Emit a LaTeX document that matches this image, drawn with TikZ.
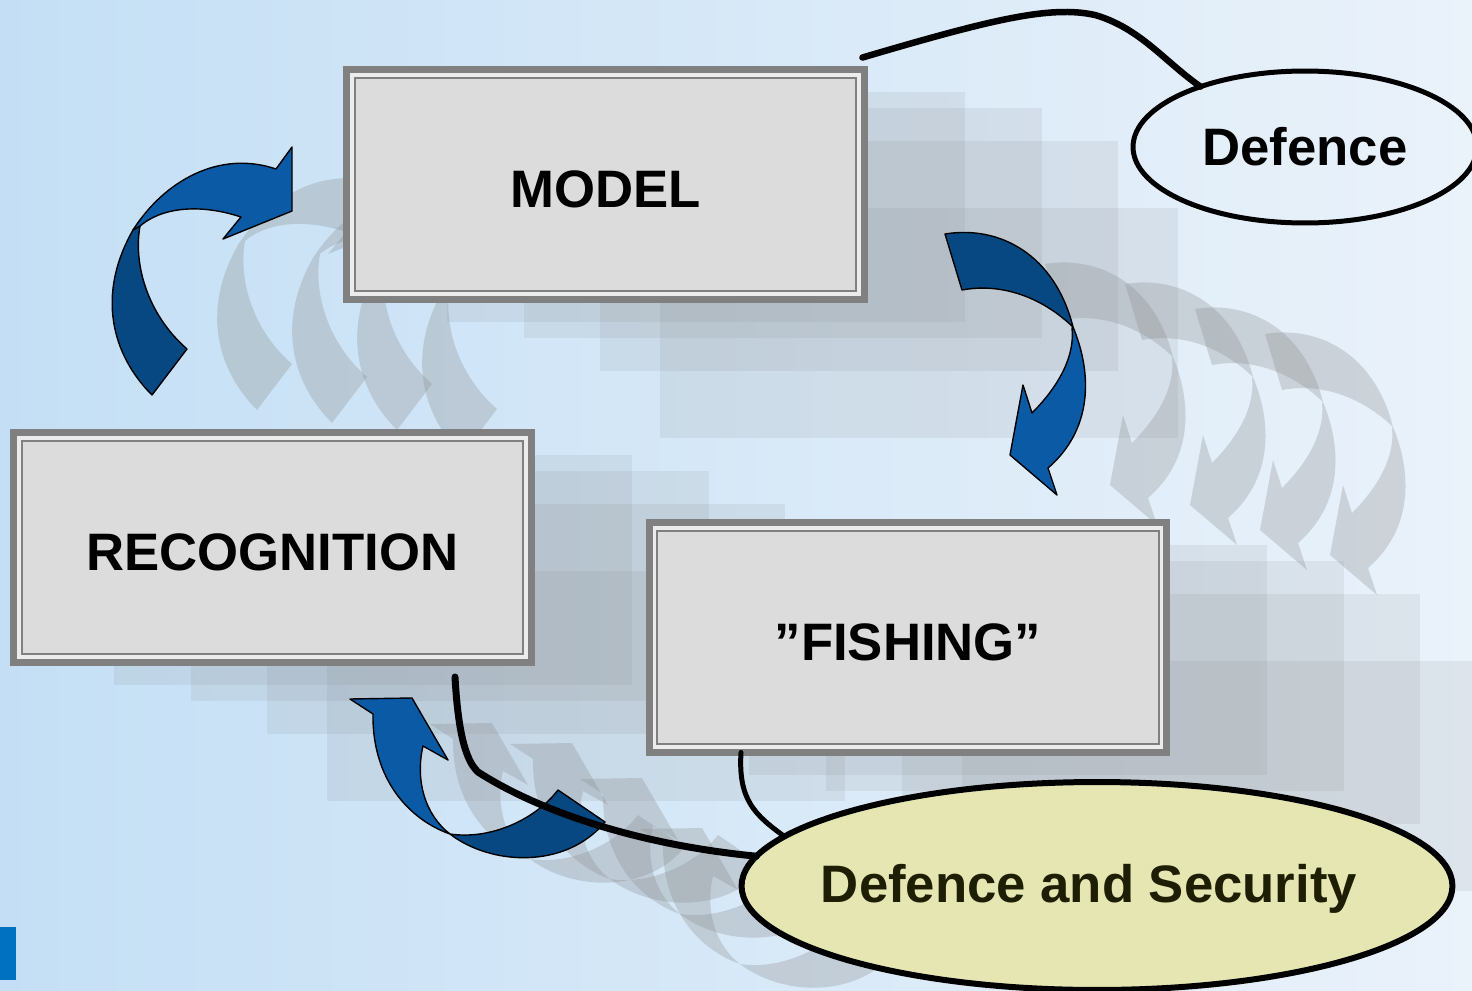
\documentclass[tikz,border=0pt]{standalone}
\usepackage{fontspec}
\setmainfont{Liberation Sans}
\usepackage{tikz}
\usetikzlibrary{shapes.geometric,calc}
\definecolor{bgleft}{RGB}{196,223,245}
\definecolor{bgright}{RGB}{234,242,250}
\definecolor{boxgray}{RGB}{128,128,128}
\definecolor{boxfill}{RGB}{220,220,220}
\definecolor{boxlight}{RGB}{236,236,236}
\definecolor{arcfront}{RGB}{10,90,166}
\definecolor{arcback}{RGB}{7,72,130}
\definecolor{ghostgray}{RGB}{140,140,140}
\definecolor{dsfill}{RGB}{230,230,178}
\definecolor{dstext}{RGB}{30,30,5}
\definecolor{cornerblue}{RGB}{0,112,192}
\newcommand{\arcLback}{(152,395) .. controls (112,355) and (96,295) .. (133,230) -- (140,226) .. controls (133,265) and (148,315) .. (187,349) -- cycle}
\newcommand{\arcLfront}{(133,230) .. controls (165,180) and (220,150) .. (276,169) -- (292,147) -- (292,211) -- (223,239) -- (241,217) .. controls (205,205) and (165,205) .. (140,226) -- cycle}
\newcommand{\arcRback}{(945,234) .. controls (1000,225) and (1055,255) .. (1073,327) .. controls (1045,300) and (1005,282) .. (962,290) -- cycle}
\newcommand{\arcRfront}{(1073,327) .. controls (1093,375) and (1092,430) .. (1048,468) -- (1057,495) -- (1010,455) -- (1023,385) -- (1032,413) .. controls (1060,385) and (1075,355) .. (1072,328) -- cycle}
\newcommand{\arcBfront}{(373,714) -- (350,699) -- (412,698) -- (448,760) -- (423,746) .. controls (415,780) and (425,815) .. (450,834) .. controls (410,820) and (372,780) .. (373,714) -- cycle}
\newcommand{\arcBback}{(450,834) .. controls (490,865) and (565,870) .. (605,822) -- (558,790) .. controls (535,820) and (490,840) .. (450,834) -- cycle}

\begin{document}
\begin{tikzpicture}[x=0.02cm,y=-0.02cm,
  bigtext/.style={font=\fontsize{30}{36}\selectfont\bfseries},
  stagebox/.style={bigtext,draw=boxgray,fill=boxfill,line width=0.14cm,minimum width=10.36cm,minimum height=4.6cm,inner sep=0pt,outer sep=0pt,text height=27pt},
  arcpart/.style={draw=black,line width=0.8pt,line join=round},
  ghost/.style={fill=ghostgray,fill opacity=0.3},
  conn/.style={draw=black,line width=0.13cm,line cap=round}]
  \useasboundingbox (0,0) rectangle (1472,991);
  \shade[left color=bgleft,right color=bgright] (0,0) rectangle (1472,991);
  \fill[cornerblue] (0,927) rectangle (16,980);
  \foreach \dx/\dy in {100/22,177/38,253/71,313/138}{
    \foreach \cx/\cy in {605.5/184.5,272.5/547.5,908/637.5}
      \fill[gray,opacity=0.12] (\cx-259+\dx,\cy-115+\dy) rectangle (\cx+259+\dx,\cy+115+\dy);
  }
  \foreach \dx/\dy in {105/15,180/28,245/35,310/60}{
    \fill[ghost,shift={(\dx,\dy)}] \arcLback;
    \fill[ghost,shift={(\dx,\dy)}] \arcLfront;
  }
  \foreach \dx/\dy in {100/30,180/50,250/75,320/100}{
    \fill[ghost,shift={(\dx,\dy)}] \arcRback;
    \fill[ghost,shift={(\dx,\dy)}] \arcRfront;
  }
  \foreach \dx/\dy in {80/25,160/45,230/80,290/130}{
    \fill[ghost,shift={(\dx,\dy)}] \arcBfront;
    \fill[ghost,shift={(\dx,\dy)}] \arcBback;
  }
  \node[stagebox] (model) at (605.5,184.5) {MODEL};
  \node[stagebox] (recog) at (272.5,547.5) {RECOGNITION};
  \node[stagebox] (fish) at (908,637.5) {”FISHING”};
  \foreach \n in {model,recog,fish}{
    \draw[boxlight,line width=0.08cm] ([shift={(5.5,5.5)}]\n.north west) rectangle ([shift={(-5.5,-5.5)}]\n.south east);
    \draw[boxgray,line width=0.04cm] ([shift={(8,8)}]\n.north west) rectangle ([shift={(-8,-8)}]\n.south east);
  }
  \filldraw[arcpart,fill=arcback] \arcLback;
  \filldraw[arcpart,fill=arcfront] \arcLfront;
  \filldraw[arcpart,fill=arcback] \arcRback;
  \filldraw[arcpart,fill=arcfront] \arcRfront;
  \filldraw[arcpart,fill=arcfront] \arcBfront;
  \filldraw[arcpart,fill=arcback] \arcBback;
  \node[ellipse,draw,bigtext,line width=0.1cm,minimum width=6.88cm,minimum height=3.04cm,inner sep=0pt,outer sep=0pt] (def) at (1305,147) {Defence};
  \node[ellipse,draw,fill=dsfill,line width=0.12cm,minimum width=14.22cm,minimum height=4.16cm,inner sep=0pt,outer sep=0pt] (ds) at (1097,886) {};
  \node[bigtext,text=dstext,inner sep=0pt] (dslabel) at (1089,889) {Defence and Security};
  \draw[conn] ([shift={(-2,-12)}]model.north east) .. controls (990,20) and (1050,5) .. (1095,15) .. controls (1140,28) and (1165,62) .. (def.150);
  \draw[conn,line width=0.1cm] ([shift={(-167,0)}]fish.south) .. controls (738,800) and (755,815) .. (ds.171);
  \draw[conn,line width=0.14cm] ([shift={(182.5,14.5)}]recog.south) .. controls (458,730) and (465,760) .. (478,772) .. controls (540,812) and (640,845) .. (ds.175);
\end{tikzpicture}
\end{document}
